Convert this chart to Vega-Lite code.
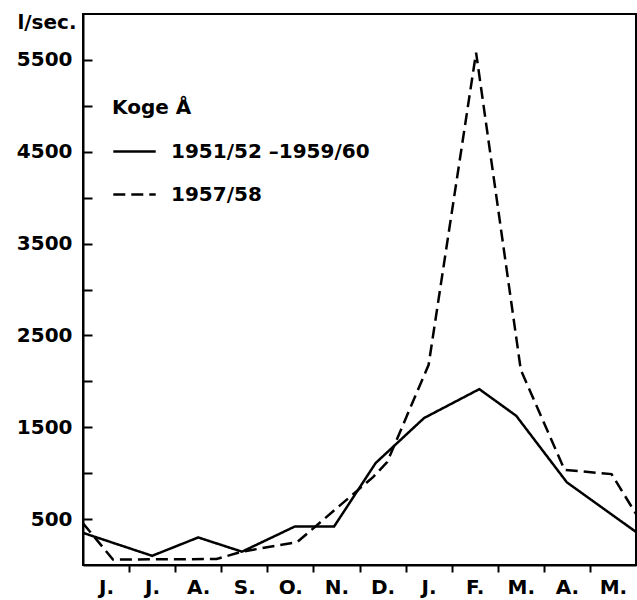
{
  "$schema": "https://vega.github.io/schema/vega-lite/v6.json",
  "width": 553,
  "height": 551,
  "autosize": {"type": "none"},
  "padding": {"left": 83, "top": 14, "right": 1, "bottom": 35},
  "background": "white",
  "config": {
    "view": {"stroke": "black", "strokeWidth": 2},
    "font": "DejaVu Sans"
  },
  "data": {
    "values": [
      {"series": "1951/52 –1959/60", "m": 0, "v": 350},
      {"series": "1951/52 –1959/60", "m": 1.5, "v": 100},
      {"series": "1951/52 –1959/60", "m": 2.5, "v": 300},
      {"series": "1951/52 –1959/60", "m": 3.45, "v": 145},
      {"series": "1951/52 –1959/60", "m": 4.6, "v": 420},
      {"series": "1951/52 –1959/60", "m": 5.45, "v": 420},
      {"series": "1951/52 –1959/60", "m": 6.35, "v": 1110},
      {"series": "1951/52 –1959/60", "m": 7.4, "v": 1600},
      {"series": "1951/52 –1959/60", "m": 8.6, "v": 1915},
      {"series": "1951/52 –1959/60", "m": 9.4, "v": 1625},
      {"series": "1951/52 –1959/60", "m": 10.5, "v": 900},
      {"series": "1951/52 –1959/60", "m": 12, "v": 360},
      {"series": "1957/58", "m": 0, "v": 455},
      {"series": "1957/58", "m": 0.65, "v": 60},
      {"series": "1957/58", "m": 2.9, "v": 65},
      {"series": "1957/58", "m": 3.45, "v": 145},
      {"series": "1957/58", "m": 4.65, "v": 250},
      {"series": "1957/58", "m": 6.3, "v": 960},
      {"series": "1957/58", "m": 6.6, "v": 1120},
      {"series": "1957/58", "m": 7.5, "v": 2180},
      {"series": "1957/58", "m": 8.53, "v": 5580},
      {"series": "1957/58", "m": 9.5, "v": 2125},
      {"series": "1957/58", "m": 10.45, "v": 1036},
      {"series": "1957/58", "m": 11.47, "v": 990},
      {"series": "1957/58", "m": 12, "v": 556}
    ]
  },
  "mark": {"type": "line", "color": "black", "strokeWidth": 2.5, "clip": true},
  "encoding": {
    "x": {
      "field": "m",
      "type": "quantitative",
      "title": null,
      "scale": {"domain": [0, 12], "nice": false, "zero": false},
      "axis": {
        "values": [0.5, 1, 1.5, 2, 2.5, 3, 3.5, 4, 4.5, 5, 5.5, 6, 6.5, 7, 7.5, 8, 8.5, 9, 9.5, 10, 10.5, 11, 11.5],
        "labelExpr": "datum.value % 1 == 0.5 ? ['J.','J.','A.','S.','O.','N.','D.','J.','F.','M.','A.','M.'][floor(datum.value)] : ''",
        "tickOpacity": {"condition": {"test": "datum.value % 1 == 0", "value": 1}, "value": 0},
        "grid": false,
        "domainColor": "black",
        "domainWidth": 2,
        "tickColor": "black",
        "tickWidth": 2,
        "tickSize": 7,
        "labelPadding": 5,
        "labelFontSize": 20,
        "labelFontWeight": "bold",
        "labelColor": "black",
        "labelOverlap": false,
        "labelFlush": false,
        "labelBound": false
      }
    },
    "y": {
      "field": "v",
      "type": "quantitative",
      "scale": {"domain": [0, 6000], "nice": false},
      "axis": {
        "values": [500, 1000, 1500, 2000, 2500, 3000, 3500, 4000, 4500, 5000, 5500],
        "labelExpr": "datum.value % 1000 == 500 ? format(datum.value, 'd') : ''",
        "title": "l/sec.",
        "titleAngle": 0,
        "titleAlign": "right",
        "titleBaseline": "alphabetic",
        "titleX": -7,
        "titleY": 14,
        "titleFontSize": 20,
        "titleFontWeight": "bold",
        "titleColor": "black",
        "grid": false,
        "domainColor": "black",
        "domainWidth": 2,
        "tickColor": "black",
        "tickWidth": 2,
        "tickSize": -9,
        "labelPadding": 20,
        "labelFontSize": 20,
        "labelFontWeight": "bold",
        "labelColor": "black",
        "labelOverlap": false,
        "labelFlush": false,
        "labelBound": false
      }
    },
    "strokeDash": {
      "field": "series",
      "type": "nominal",
      "scale": {"domain": ["1951/52 –1959/60", "1957/58"], "range": [[1, 0], [12, 6]]},
      "legend": {
        "orient": "none",
        "legendX": 29,
        "legendY": 84,
        "title": "Koge Å",
        "titleFontSize": 20,
        "titleFontWeight": "bold",
        "titleColor": "black",
        "titlePadding": 11,
        "labelFontSize": 20,
        "labelFontWeight": "bold",
        "labelColor": "black",
        "labelOffset": 14,
        "labelLimit": 400,
        "symbolType": "stroke",
        "symbolSize": 1800,
        "symbolStrokeWidth": 2.5,
        "symbolStrokeColor": "black",
        "rowPadding": 10
      }
    }
  }
}
